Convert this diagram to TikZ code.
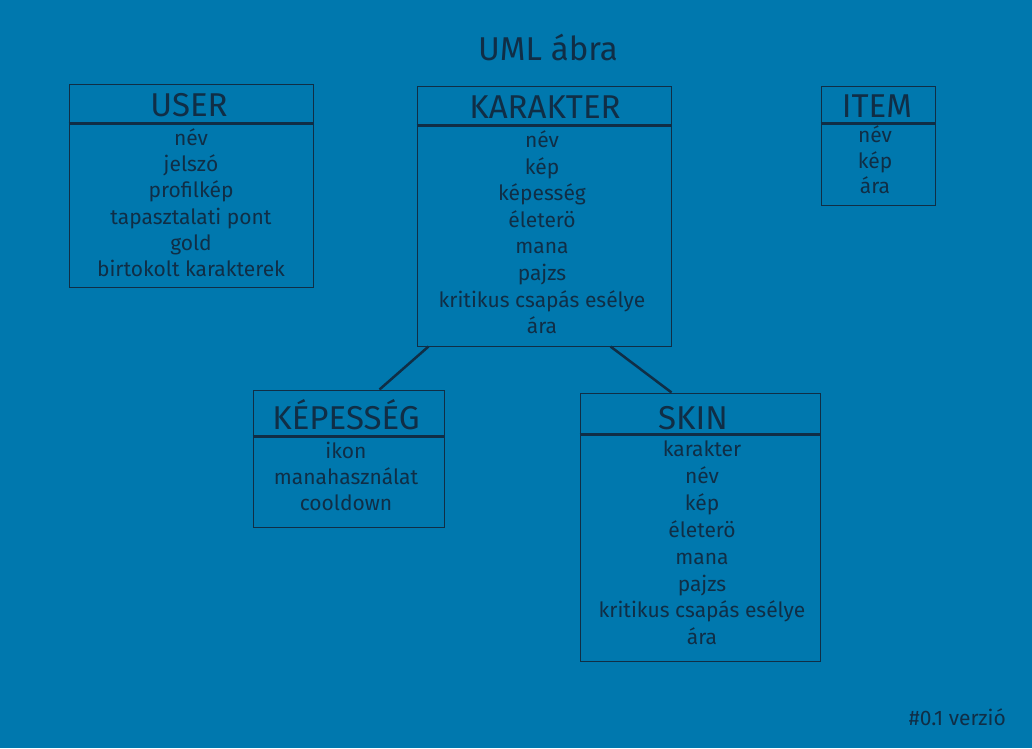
\documentclass[tikz,border=0pt]{standalone}
\usepackage{fontspec}
\setmainfont{Fira Sans}
\usetikzlibrary{calc}
\definecolor{bg}{RGB}{0,120,174}
\definecolor{ink}{RGB}{16,46,70}
\tikzset{
  classbox/.style={draw=ink, line width=1pt, rectangle, inner sep=0pt},
  sepline/.style={draw=ink, line width=3pt},
  assoc/.style={draw=ink, line width=2.5pt},
  ctitle/.style={text=ink, font=\fontsize{33}{33}\selectfont, inner sep=0pt, text height=24pt, text depth=6pt},
  attr/.style={text=ink, font=\fontsize{21}{21}\selectfont, inner sep=0pt, text height=15pt, text depth=4pt},
}
\begin{document}
\begin{tikzpicture}[x=1pt,y=-1pt]
\fill[bg] (0,0) rectangle (1032,748);
\useasboundingbox (0,0) rectangle (1032,748);

\node[ctitle] (title) at (548,51) {UML ábra};
\node[attr, anchor=east] (version) at (1006,720) {\#0.1 verzió};

% USER
\node[classbox, minimum width=244pt, minimum height=203pt] (user) at (191,185.5) {};
\draw[sepline] (user.west |- 0,123) -- (user.east |- 0,123);
\node[ctitle] (user-t) at (189,107) {USER};
\foreach \t [count=\i] in {név,jelszó,profilkép,tapasztalati pont,gold,birtokolt karakterek}
  \node[attr] (user-\i) at (191,{140+26.2*(\i-1)}) {\t};

% KARAKTER
\node[classbox, minimum width=254pt, minimum height=260pt] (karakter) at (544,216) {};
\draw[sepline] (karakter.west |- 0,125) -- (karakter.east |- 0,125);
\node[ctitle] (karakter-t) at (545,109) {KARAKTER};
\foreach \t [count=\i] in {név,kép,képesség,életerö,mana,pajzs,kritikus csapás esélye,ára}
  \node[attr] (karakter-\i) at (542,{142+26.6*(\i-1)}) {\t};

% ITEM
\node[classbox, minimum width=114pt, minimum height=119pt] (item) at (878,145.5) {};
\draw[sepline] (item.west |- 0,123) -- (item.east |- 0,123);
\node[ctitle] (item-t) at (877,108) {ITEM};
\foreach \t [count=\i] in {név,kép,ára}
  \node[attr] (item-\i) at (875,{137+25.5*(\i-1)}) {\t};

% KEPESSEG
\node[classbox, minimum width=191pt, minimum height=137pt] (kepesseg) at (348.5,458.5) {};
\draw[sepline] (kepesseg.west |- 0,436) -- (kepesseg.east |- 0,436);
\node[ctitle] (kepesseg-t) at (346,420) {KÉPESSÉG};
\foreach \t [count=\i] in {ikon,manahasználat,cooldown}
  \node[attr] (kepesseg-\i) at (346,{453+26*(\i-1)}) {\t};

% SKIN
\node[classbox, minimum width=240pt, minimum height=268pt] (skin) at (700,527) {};
\draw[sepline] (skin.west |- 0,434) -- (skin.east |- 0,434);
\node[ctitle] (skin-t) at (693,420) {SKIN};
\foreach \t [count=\i] in {karakter,név,kép,életerö,mana,pajzs,kritikus csapás esélye,ára}
  \node[attr] (skin-\i) at (702,{451+26.9*(\i-1)}) {\t};

% associations
\draw[assoc] ($(karakter.south west)+(12,0)$) -- ($(kepesseg.north west)+(127,0)$);
\draw[assoc] ($(karakter.south west)+(194,0)$) -- ($(skin.north west)+(92,0)$);
\end{tikzpicture}
\end{document}
